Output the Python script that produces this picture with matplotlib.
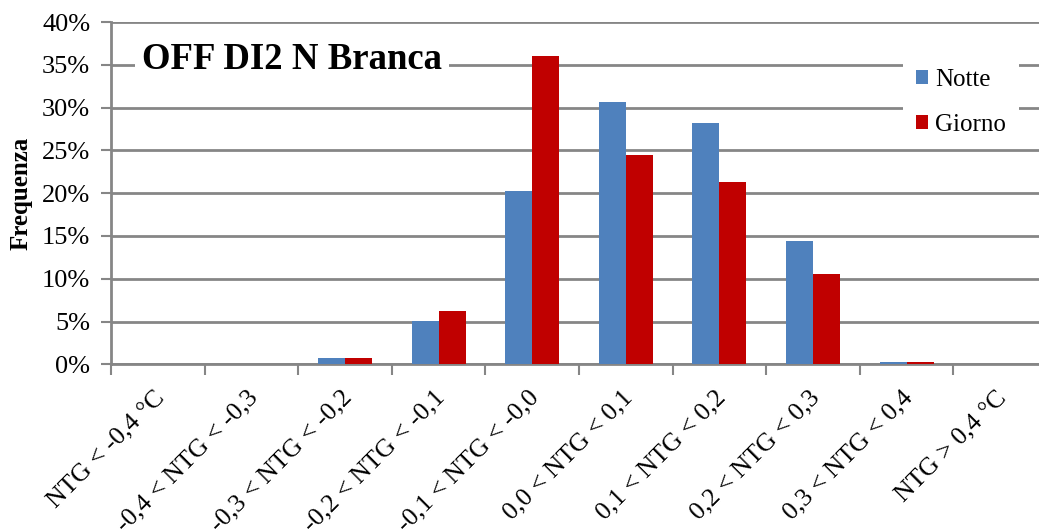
import matplotlib.pyplot as plt
import numpy as np
from matplotlib.ticker import FuncFormatter

# NTG classes and relative frequencies (%)
categories = ['NTG < -0,4 °C', '-0,4 < NTG < -0,3', '-0,3 < NTG < -0,2',
              '-0,2 < NTG < -0,1', '-0,1 < NTG < -0,0', '0,0 < NTG < 0,1',
              '0,1 < NTG < 0,2', '0,2 < NTG < 0,3', '0,3 < NTG < 0,4',
              'NTG > 0,4 °C']
notte = [0.0, 0.0, 0.7, 5.1, 20.3, 30.6, 28.2, 14.4, 0.3, 0.0]
giorno = [0.0, 0.0, 0.7, 6.2, 36.0, 24.5, 21.3, 10.6, 0.3, 0.0]

plt.rcParams['font.family'] = ['Liberation Serif', 'DejaVu Serif']

fig = plt.figure(figsize=(10.39, 5.32), dpi=100)
ax = fig.add_axes([0.1068, 0.3152, 0.9009, 0.6434])

x = np.arange(len(categories))
w = 0.289
grid_col = '#868686'

ax.bar(x - w / 2, notte, w, color='#4F81BD', label='Notte', zorder=3)
ax.bar(x + w / 2, giorno, w, color='#C00000', label='Giorno', zorder=3)

ax.set_xlim(-0.5, len(categories) - 0.5)
ax.set_ylim(0, 40)
ax.set_yticks(np.arange(0, 41, 5))
ax.yaxis.set_major_formatter(FuncFormatter(lambda v, p: f'{v:.0f}%'))
ax.grid(axis='y', color=grid_col, linewidth=2, zorder=0)

# category labels slightly left of the centres, tick marks at the boundaries
ax.set_xticks(x - 0.05)
ax.set_xticklabels(categories, rotation=45, ha='right', va='top',
                   rotation_mode='anchor', fontsize=18.5)
ax.set_xticks(np.arange(-0.5, len(categories), 1), minor=True)
ax.tick_params(axis='x', which='major', length=0, pad=16)
ax.tick_params(axis='x', which='minor', length=8, width=1.5, color=grid_col,
               direction='out')
ax.tick_params(axis='y', length=7, width=1.5, color=grid_col, labelsize=19,
               pad=8)

for s in ['top', 'right']:
    ax.spines[s].set_visible(False)
for s in ['left', 'bottom']:
    ax.spines[s].set_color(grid_col)
    ax.spines[s].set_linewidth(2)

ax.set_ylabel('Frequenza', fontsize=18, fontweight='bold')
ax.yaxis.set_label_coords(-0.084, 0.5)

ax.text(0.033, 0.89, 'OFF DI2 N Branca', transform=ax.transAxes,
        fontsize=26.5, fontweight='bold', va='center', ha='left', zorder=5,
        bbox=dict(facecolor='white', edgecolor='none', pad=5))

leg = ax.legend(loc='upper left', bbox_to_anchor=(0.833, 0.935), frameon=True,
                fontsize=18, handlelength=0.48, handleheight=0.48,
                handletextpad=0.3, labelspacing=0.89, borderpad=0.5,
                fancybox=False)
leg.get_frame().set_facecolor('white')
leg.get_frame().set_edgecolor('none')
leg.get_frame().set_alpha(1)
leg.set_zorder(5)

plt.savefig('out.png', dpi=100)
